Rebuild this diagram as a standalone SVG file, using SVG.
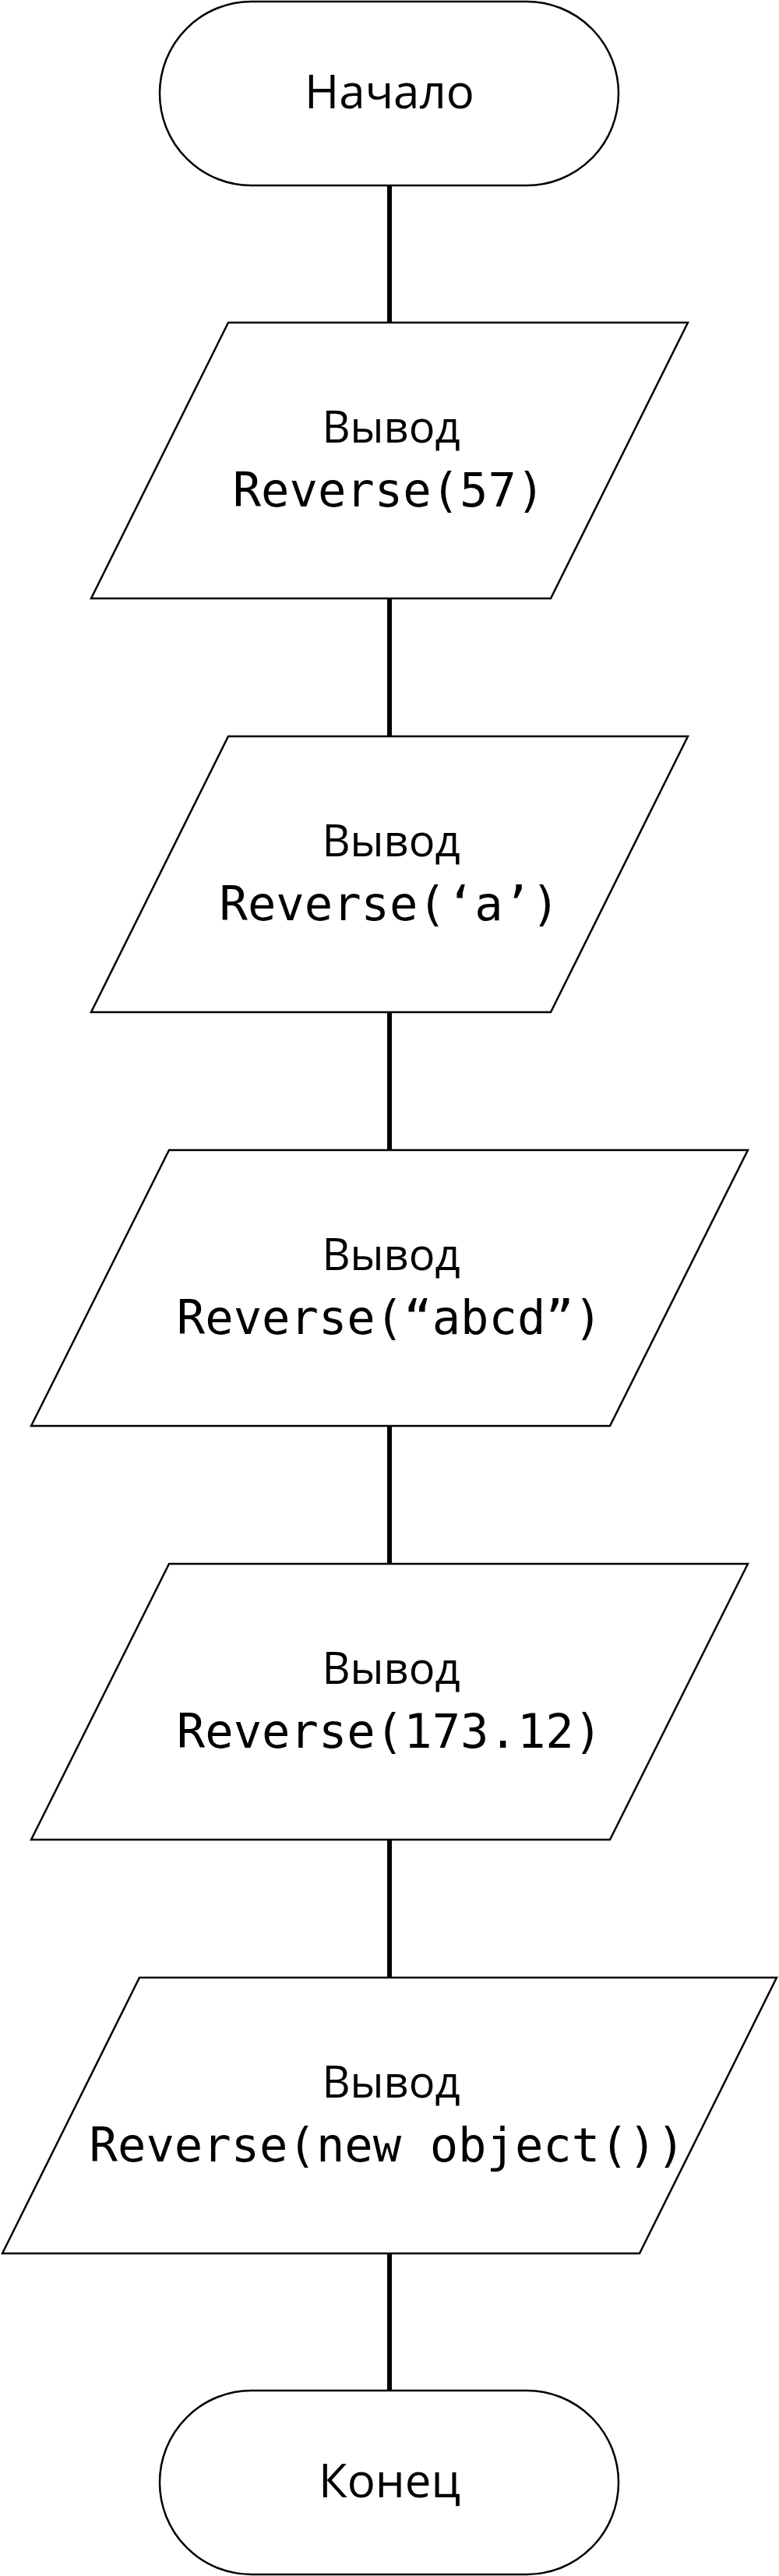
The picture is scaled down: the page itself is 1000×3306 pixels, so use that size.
<svg xmlns="http://www.w3.org/2000/svg" width="1000" height="3306" viewBox="0 0 1000 3306">
<style>
.shape{fill:#fff;stroke:#000;stroke-width:2.5}
.conn{stroke:#000;stroke-width:6;stroke-linecap:round;fill:none}
.term{font-family:"Open Sans","Noto Sans",sans-serif;font-size:60px;text-anchor:middle;fill:#000}
.lbl{font-family:"Open Sans","Noto Sans",sans-serif;font-size:56px;text-anchor:middle;fill:#000}
.code{font-family:"DejaVu Sans Mono",monospace;font-size:60.5px;text-anchor:middle;fill:#000}
</style>
<rect width="1000" height="3306" fill="#fff"/>
<g id="connectors">
<line class="conn" x1="500" y1="238" x2="500" y2="414"/>
<line class="conn" x1="500" y1="768" x2="500" y2="945"/>
<line class="conn" x1="500" y1="1299" x2="500" y2="1476"/>
<line class="conn" x1="500" y1="1830" x2="500" y2="2007"/>
<line class="conn" x1="500" y1="2361" x2="500" y2="2538"/>
<line class="conn" x1="500" y1="2892" x2="500" y2="3068"/>
</g>
<g id="start">
<rect class="shape" x="205" y="2" width="589" height="236" rx="118" ry="118"/>
<text class="term" x="500" y="139">Начало</text>
</g>
<g id="out1">
<polygon class="shape" points="293,414 883,414 707,768 117,768"/>
<text class="lbl" x="502" y="568">Вывод</text>
<text class="code" x="499" y="650">Reverse(57)</text>
</g>
<g id="out2">
<polygon class="shape" points="293,945 883,945 707,1299 117,1299"/>
<text class="lbl" x="502" y="1099">Вывод</text>
<text class="code" x="500" y="1181">Reverse(‘a’)</text>
</g>
<g id="out3">
<polygon class="shape" points="217,1476 960,1476 783,1830 40,1830"/>
<text class="lbl" x="502" y="1630">Вывод</text>
<text class="code" x="500" y="1712">Reverse(“abcd”)</text>
</g>
<g id="out4">
<polygon class="shape" points="217,2007 960,2007 783,2361 40,2361"/>
<text class="lbl" x="502" y="2161">Вывод</text>
<text class="code" x="500" y="2243">Reverse(173.12)</text>
</g>
<g id="out5">
<polygon class="shape" points="179,2538 997,2538 821,2892 3,2892"/>
<text class="lbl" x="502" y="2692">Вывод</text>
<text class="code" x="497" y="2774">Reverse(new object())</text>
</g>
<g id="end">
<rect class="shape" x="205" y="3068" width="589" height="236" rx="118" ry="118"/>
<text class="term" x="500" y="3205">Конец</text>
</g>
</svg>
